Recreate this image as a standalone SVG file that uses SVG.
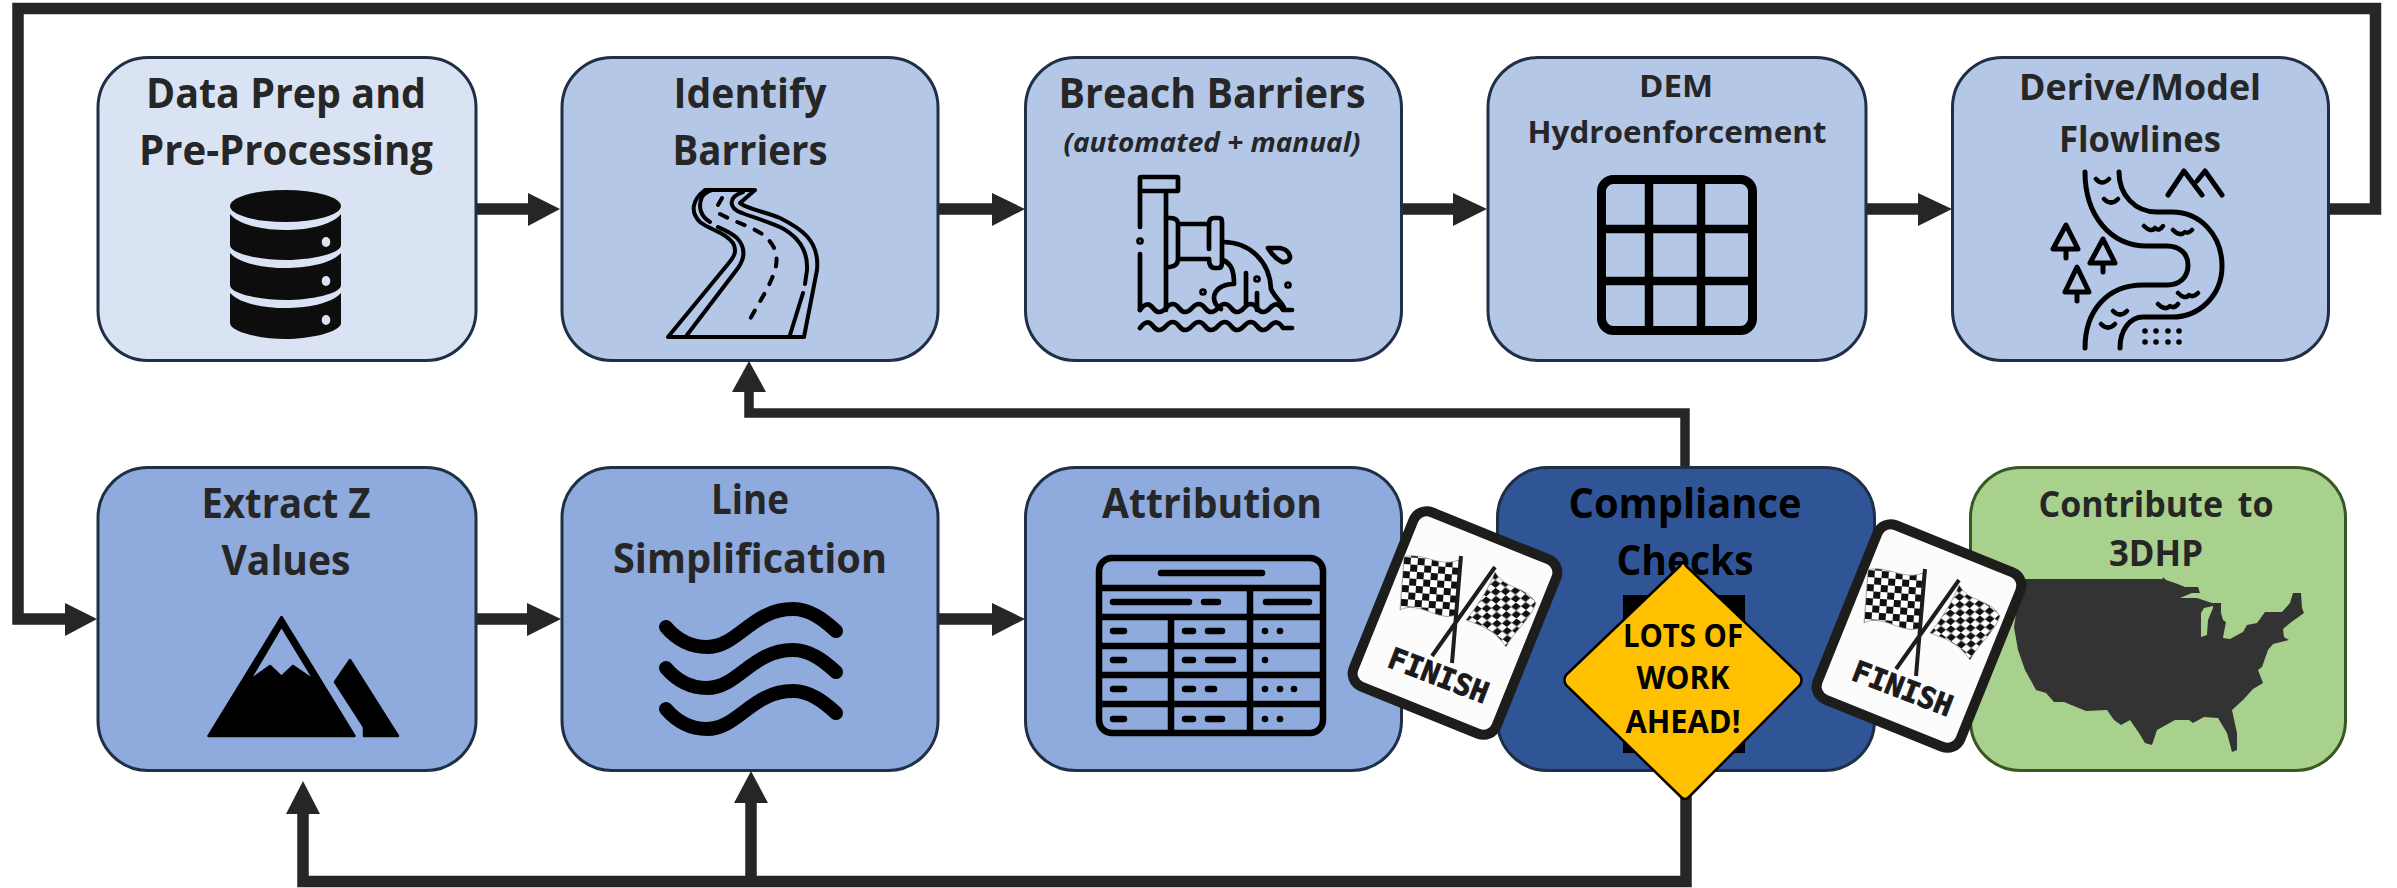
<svg xmlns="http://www.w3.org/2000/svg" width="2397" height="888" viewBox="0 0 2397 888">
<style>
.box{stroke:#1f2f45;stroke-width:3}
.t{font-family:"Open Sans","Noto Sans","Liberation Sans",sans-serif;font-weight:700;fill:#262626;text-anchor:middle}
.k{fill:#000}
.i{fill:none;stroke:#000;stroke-linecap:round;stroke-linejoin:round}
.c{fill:none;stroke:#262626;stroke-width:11.500;stroke-linejoin:miter}
.h{fill:#262626}
.sign{fill:#fcfcfc;stroke:#1d1d1b;stroke-width:10}
.fin{font-family:"DejaVu Sans Mono","Liberation Mono",monospace;font-weight:700;font-size:29px;fill:#1a1a1a;stroke:#1a1a1a;stroke-width:1;text-anchor:middle}
.fp{stroke:#1d1d1b;stroke-width:4;fill:none}
.fl{stroke:#999;stroke-width:.8}
</style>
<defs>
<pattern id="ch1" width="14" height="14" patternUnits="userSpaceOnUse" patternTransform="translate(1404,557) rotate(4)"><rect width="14" height="14" fill="#fff"/><rect width="7" height="7" fill="#111"/><rect x="7" y="7" width="7" height="7" fill="#111"/></pattern>
<pattern id="ch2" width="12.500" height="12.500" patternUnits="userSpaceOnUse" patternTransform="translate(1495,572) rotate(36) skewX(-12)"><rect width="13" height="13" fill="#fff"/><rect width="6.250" height="6.250" fill="#111"/><rect x="6.250" y="6.250" width="6.250" height="6.250" fill="#111"/></pattern>
<g id="flags">
<path class="fl" fill="url(#ch1)" d="M1404,557C1420,551 1440,568 1459,560L1456,615C1438,622 1418,600 1400,610Z"/>
<path class="fl" fill="url(#ch2)" d="M1495,572C1505,590 1525,585 1536,603C1530,620 1515,630 1506,647C1495,630 1480,625 1466,620C1478,605 1488,590 1495,572Z"/>
<path class="fp" d="M1461,556L1452,663M1495,567L1432,656"/>
</g>
</defs>

<g id="connectors">
<path class="c" d="M2328,209H2375.500V8.500H18V619H70"/>
<path class="c" d="M476,209H530M938,209H994M1401,209H1456M1866,209H1920"/>
<path class="c" d="M476,619H530M938,619H994M1402,619H1420"/>
<path class="c" style="stroke-width:9.500" d="M1685,467V413H749V385"/>
<path class="c" d="M1686,770V881.500H303V810M751,881.500V800"/>
<g class="h">
<path d="M528,193L560,209L528,226Z"/>
<path d="M992,193L1025,209L992,226Z"/>
<path d="M1453,193L1487,209L1453,226Z"/>
<path d="M1918,193L1952,209L1918,226Z"/>
<path d="M65,603L97,619L65,636Z"/>
<path d="M527,603L561,619L527,636Z"/>
<path d="M992,603L1025,619L992,636Z"/>
<path d="M732,392L749,361L766,392Z"/>
<path d="M286,814L303,781L320,814Z"/>
<path d="M734,803L751,771L768,803Z"/>
</g>
</g>

<g id="node-data-prep">
<rect class="box" x="98" y="57.500" width="378" height="303" rx="50" fill="#dae3f3"/>
<text class="t" x="286" y="108" font-size="41" textLength="280" lengthAdjust="spacingAndGlyphs">Data Prep and</text>
<text class="t" x="286" y="165" font-size="41" textLength="294" lengthAdjust="spacingAndGlyphs">Pre-Processing</text>
<g fill="#0d0d0d">
<ellipse cx="285.500" cy="206" rx="55.500" ry="16"/>
<path d="M230,214C240,226 265,230 285.500,230C306,230 331,226 341,214V245C341,254 310,260 285.500,260C261,260 230,254 230,245Z"/>
<path d="M230,253C240,264 265,268 285.500,268C306,268 331,264 341,253V285C341,294 310,300 285.500,300C261,300 230,294 230,285Z"/>
<path d="M230,293C240,304 265,308 285.500,308C306,308 331,304 341,293V323C341,332 310,339 285.500,339C261,339 230,332 230,323Z"/>
</g>
<g fill="#dae3f3"><ellipse cx="326" cy="242" rx="4.300" ry="5"/><ellipse cx="326" cy="281" rx="4.300" ry="5"/><ellipse cx="326" cy="320" rx="4.300" ry="5"/></g>
</g>

<g id="node-identify-barriers">
<rect class="box" x="562" y="57.500" width="376" height="303" rx="50" fill="#b4c7e7"/>
<text class="t" x="750" y="108" font-size="41" textLength="153" lengthAdjust="spacingAndGlyphs">Identify</text>
<text class="t" x="750" y="165" font-size="41" textLength="155" lengthAdjust="spacingAndGlyphs">Barriers</text>
<g class="i" stroke-width="4">
<path d="M668,337H804L817,270C820,240 800,228 780,218C765,212 745,208 740,203L755,190H705C692,200 690,212 700,222C710,230 725,232 733,243C738,252 733,258 728,264L668,337"/>
<path d="M687,335L738,268C745,258 746,248 737,238C730,232 724,230 718,227M710,222C700,216 698,206 702,197Q705,192 712,190"/>
<path d="M743,192C728,197 728,208 742,213C755,218 770,222 782,228C800,238 808,252 807,270L805,284M803,293L790,335"/>
<path stroke-dasharray="8 11" d="M722,198L718,205M720,214C735,222 750,226 762,234C775,244 778,254 776,266C772,285 755,308 746,327"/>
</g>
</g>

<g id="node-breach-barriers">
<rect class="box" x="1025.500" y="57.500" width="376" height="303" rx="50" fill="#b4c7e7"/>
<text class="t" x="1212" y="108" font-size="41" textLength="307" lengthAdjust="spacingAndGlyphs">Breach Barriers</text>
<text class="t" x="1212" y="152" font-size="26" font-style="italic" textLength="297" lengthAdjust="spacingAndGlyphs">(automated + manual)</text>
<g class="i" stroke-width="4.700">
<rect x="1140" y="177" width="38" height="14" rx="1"/>
<path d="M1140,191V227M1140,254V310M1166,191V310"/>
<circle cx="1140" cy="241" r="1.500"/>
<path d="M1166,218H1170Q1178,218 1178,224V259Q1178,266 1170,267H1166M1178,224H1209M1178,259H1209"/>
<path d="M1209,249V224Q1209,218 1214,218H1219Q1222,218 1222,222V263Q1222,268 1218,268H1215Q1209,268 1209,259"/>
<path d="M1223,242C1250,242 1270,262 1271,289C1275,298 1282,302 1284,308"/>
<path d="M1223,260C1232,264 1234,272 1234,284C1222,284 1214,290 1214,298C1214,304 1218,307 1221,309"/>
<path d="M1246,273V304M1257,293V310"/>
<circle cx="1257" cy="279" r="1.500"/><circle cx="1203" cy="292" r="1.500"/><circle cx="1288" cy="285" r="1.500"/>
<path d="M1268,248H1280Q1290,250 1290,258Q1288,263 1282,262Q1274,258 1268,248Z"/>
<path d="M1140,310Q1147,300 1153,308T1166,308T1179,308T1192,308T1205,308T1218,308T1231,308T1244,308T1257,308T1270,308T1283,310H1292"/>
<path d="M1140,328Q1147,318 1153,326T1166,326T1179,326T1192,326T1205,326T1218,326T1231,326T1244,326T1257,326T1270,326T1283,328H1292"/>
</g>
</g>

<g id="node-dem">
<rect class="box" x="1488" y="57.500" width="378" height="303" rx="50" fill="#b4c7e7"/>
<text class="t" x="1676" y="97" font-size="31" textLength="74" lengthAdjust="spacingAndGlyphs">DEM</text>
<text class="t" x="1677" y="143" font-size="31" textLength="299" lengthAdjust="spacingAndGlyphs">Hydroenforcement</text>
<g fill="none" stroke="#000" stroke-width="8.500">
<rect x="1601.500" y="179.500" width="151" height="151" rx="12" stroke-width="9"/>
<path d="M1649,179V331M1701,179V331M1601,229H1753M1601,281H1753"/>
</g>
</g>

<g id="node-derive-flowlines">
<rect class="box" x="1952.500" y="57.500" width="376" height="303" rx="50" fill="#b4c7e7"/>
<text class="t" x="2140" y="100" font-size="35" textLength="242" lengthAdjust="spacingAndGlyphs">Derive/Model</text>
<text class="t" x="2140" y="152" font-size="35" textLength="162" lengthAdjust="spacingAndGlyphs">Flowlines</text>
<g class="i" stroke-width="5">
<path d="M2085,172C2085,215 2110,246 2147,246H2167C2180,246 2188,254 2188,265C2188,277 2180,285 2167,285H2143C2108,285 2085,310 2085,348"/>
<path d="M2119,172C2119,195 2135,212 2157,212H2172C2200,212 2222,235 2222,266C2222,295 2200,317 2172,317H2143C2130,317 2120,330 2120,348"/>
<path d="M2168,195L2184,171L2202,195M2197,181L2205,171L2222,195"/>
<path d="M2066,225L2053,249H2078ZM2066,249V258M2103,239L2090,263H2115ZM2103,263V272M2077,267L2065,292H2089ZM2077,292V301"/>
<path stroke-width="4.500" d="M2096,179Q2102,186 2109,179M2104,199Q2111,206 2118,199M2144,226Q2151,233 2155,228Q2159,232 2163,226M2173,230Q2180,237 2185,232Q2188,234 2192,230M2178,293Q2185,300 2189,295Q2193,298 2198,293M2158,304Q2165,311 2170,306Q2174,309 2178,304M2113,311Q2120,318 2127,311M2101,324Q2108,331 2115,324"/>
</g>
<g fill="#000"><circle cx="2145" cy="331" r="2.800"/><circle cx="2156" cy="331" r="2.800"/><circle cx="2168" cy="331" r="2.800"/><circle cx="2179" cy="331" r="2.800"/><circle cx="2145" cy="342" r="2.800"/><circle cx="2156" cy="342" r="2.800"/><circle cx="2168" cy="342" r="2.800"/><circle cx="2179" cy="342" r="2.800"/></g>
</g>

<g id="node-extract-z">
<rect class="box" x="98" y="467.500" width="378" height="303" rx="50" fill="#8faadc"/>
<text class="t" x="286" y="518" font-size="41" textLength="169" lengthAdjust="spacingAndGlyphs">Extract Z</text>
<text class="t" x="286" y="575" font-size="41" textLength="129" lengthAdjust="spacingAndGlyphs">Values</text>
<path class="k" stroke="#000" stroke-width="2.500" stroke-linejoin="round" fill-rule="evenodd" d="M281.500,617L208.500,736H354.500ZM281.500,626L249,681L270,666L281.500,677L293,666L315,681Z"/>
<path class="k" stroke="#000" stroke-width="2.500" stroke-linejoin="round" d="M350,660L398,736H364V727L335,682Z"/>
</g>

<g id="node-line-simplification">
<rect class="box" x="562" y="467.500" width="376" height="303" rx="50" fill="#8faadc"/>
<text class="t" x="750" y="514" font-size="41" textLength="78" lengthAdjust="spacingAndGlyphs">Line</text>
<text class="t" x="750" y="573" font-size="41" textLength="274" lengthAdjust="spacingAndGlyphs">Simplification</text>
<g fill="none" stroke="#000" stroke-width="14" stroke-linecap="round">
<path d="M666,627C678,641 692,647 707,647C738,647 752,609 793,609C810,609 824,620 836,631"/>
<path d="M666,668C678,682 692,688 707,688C738,688 752,650 793,650C810,650 824,661 836,672"/>
<path d="M666,709C678,723 692,729 707,729C738,729 752,691 793,691C810,691 824,702 836,713"/>
</g>
</g>

<g id="node-attribution">
<rect class="box" x="1025.500" y="467.500" width="376" height="303" rx="50" fill="#8faadc"/>
<text class="t" x="1212" y="518" font-size="41" textLength="220" lengthAdjust="spacingAndGlyphs">Attribution</text>
<g fill="none" stroke="#000" stroke-width="6.500">
<rect x="1099" y="558" width="224" height="175" rx="13"/>
<path d="M1099,588H1323M1099,617H1323M1099,646H1323M1099,675H1323M1099,704H1323M1250,588V733M1171,617V733"/>
<g stroke-linecap="round">
<path d="M1161,573H1262M1113,602H1189M1204,602H1218M1266,602H1309M1113,631H1124M1185,631H1193M1208,631H1222M1113,660H1124M1185,660H1193M1208,660H1233M1113,689H1124M1185,689H1193M1208,689H1214M1113,719H1124M1185,719H1193M1208,719H1222"/>
</g>
</g>
<g fill="#000"><circle cx="1265" cy="631" r="3.300"/><circle cx="1280" cy="631" r="3.300"/><circle cx="1265" cy="660" r="3.300"/><circle cx="1265" cy="689" r="3.300"/><circle cx="1280" cy="689" r="3.300"/><circle cx="1294" cy="689" r="3.300"/><circle cx="1265" cy="719" r="3.300"/><circle cx="1280" cy="719" r="3.300"/></g>
</g>

<g id="node-compliance">
<rect class="box" x="1497.500" y="467.500" width="377" height="303" rx="50" fill="#2f5597"/>
<text class="t" x="1685" y="518" font-size="41" style="fill:#000" textLength="233" lengthAdjust="spacingAndGlyphs">Compliance</text>
<text class="t" x="1685" y="575" font-size="41" style="fill:#000" textLength="137" lengthAdjust="spacingAndGlyphs">Checks</text>
<rect x="1623" y="595" width="122" height="158" fill="#000"/>
</g>

<g id="node-contribute">
<rect x="1970.500" y="467.500" width="375" height="303" rx="50" fill="#a9d18e" stroke="#385723" stroke-width="3"/>
<text class="t" x="2156" y="517" font-size="35" word-spacing="6" textLength="235" lengthAdjust="spacingAndGlyphs">Contribute to</text>
<text class="t" x="2156" y="566" font-size="35" textLength="94" lengthAdjust="spacingAndGlyphs">3DHP</text>
<path fill="#333" fill-rule="evenodd" d="M2021,579L2162.700,579L2163,577L2166,580L2175,583L2185,587L2198,587L2200,593L2192,593L2180,598L2197,598L2212,603L2221,603L2221,613L2223,620L2226,622L2224,632L2223,638L2230,639L2243,632L2247,625L2257,623L2265,612L2282,612L2290,603L2293,593L2301,593L2302,608L2304,613L2290,623L2283,629L2284,637L2289,640L2273,644L2268,650L2262,667L2258,670L2263,683L2253,689L2243,700L2232,710L2237,733L2237,750L2232,752L2227,733L2218,718L2204,717L2193,723L2189,720L2175,720L2157,730L2152,745L2145,743L2139,733L2130,720L2121,725L2114,720L2107,710L2086,711L2064,702L2054,702L2046,693L2036,690L2025,670L2018,650L2014,627ZM2213,606L2204,608L2201,613L2201,637L2207,635L2208,620L2213,608Z"/>
</g>

<g id="node-finish-1">
<rect class="sign" x="-77" y="-94" width="154" height="188" rx="14" transform="translate(1455,623) rotate(22)"/>
<use href="#flags"/>
<text class="fin" transform="translate(1435,685) rotate(21)">FINISH</text>
</g>
<g id="node-finish-2">
<rect class="sign" x="-77" y="-94" width="154" height="188" rx="14" transform="translate(1919,636) rotate(22)"/>
<use href="#flags" transform="translate(464,13)"/>
<text class="fin" transform="translate(1899,698) rotate(21)">FINISH</text>
</g>

<g id="node-warning">
<path d="M1680,566Q1683,560 1686,566L1800,675Q1803,680 1800,685L1689,797Q1685,801 1681,797L1566,685Q1563,680 1566,675Z" fill="#ffc000" stroke="#000" stroke-width="2.500"/>
<text class="t" x="1683" y="647" font-size="33" style="fill:#000" textLength="120" lengthAdjust="spacingAndGlyphs">LOTS OF</text>
<text class="t" x="1683" y="689" font-size="33" style="fill:#000" textLength="93" lengthAdjust="spacingAndGlyphs">WORK</text>
<text class="t" x="1683" y="733" font-size="33" style="fill:#000" textLength="115" lengthAdjust="spacingAndGlyphs">AHEAD!</text>
</g>
</svg>
